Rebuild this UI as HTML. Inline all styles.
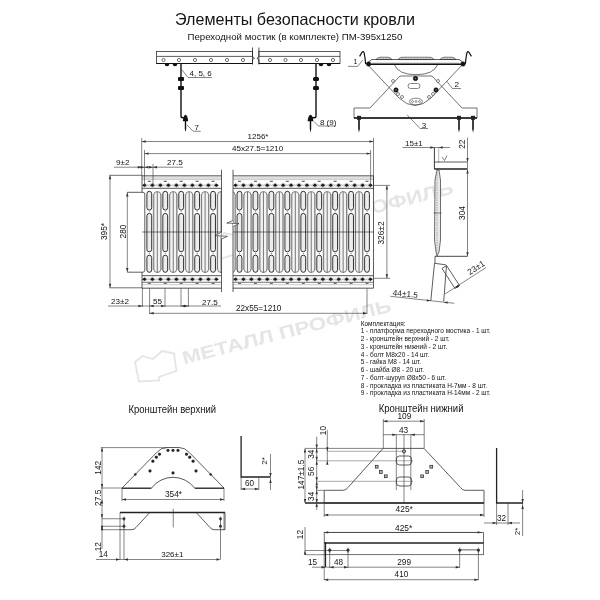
<!DOCTYPE html>
<html><head><meta charset="utf-8"><style>
html,body{margin:0;padding:0;background:#fff;}
svg{display:block;filter:grayscale(1);}
text{font-family:"Liberation Sans", sans-serif;}
</style></head><body>
<svg width="600" height="600" viewBox="0 0 600 600">
<rect width="600" height="600" fill="#fff"/>
<text x="184" y="364.3" font-size="18" font-weight="bold" fill="#e5e5e5" transform="rotate(-14.3 184 364.3)" textLength="215" lengthAdjust="spacingAndGlyphs">МЕТАЛЛ ПРОФИЛЬ</text>
<path d="M135,362 L142.5,356 L153,359 L162,351 L174,353.5 L176.5,371 L159,377 L159,380.5 L139,381.5 Z" fill="none" stroke="#e5e5e5" stroke-width="1.8" transform="translate(0 0.0)"/>
<text x="246" y="246.3" font-size="18" font-weight="bold" fill="#e5e5e5" transform="rotate(-14.3 246 246.3)" textLength="215" lengthAdjust="spacingAndGlyphs">МЕТАЛЛ ПРОФИЛЬ</text>
<path d="M135,362 L142.5,356 L153,359 L162,351 L174,353.5 L176.5,371 L159,377 L159,380.5 L139,381.5 Z" fill="none" stroke="#e5e5e5" stroke-width="1.8" transform="translate(62 -118.0)"/>
<text x="0" y="0" font-size="16.9" fill="#141414" transform="translate(175 25.3) scale(0.9546 1)">Элементы безопасности кровли</text>
<text x="187.50" y="40.00" font-size="9.66" text-anchor="start" fill="#141414" >Переходной мостик (в комплекте) ПМ-395x1250</text>
<g>
<rect x="156.5" y="51.5" width="96.0" height="12" fill="#fff" stroke="#333" stroke-width="0.8"/>
<line x1="156.50" y1="56.40" x2="252.50" y2="56.40" stroke="#333" stroke-width="0.8" />
<line x1="156.50" y1="63.50" x2="252.50" y2="63.50" stroke="#111" stroke-width="1.2" />
<rect x="258.9" y="51.5" width="81.10000000000002" height="12" fill="#fff" stroke="#333" stroke-width="0.8"/>
<line x1="258.90" y1="56.40" x2="340.00" y2="56.40" stroke="#333" stroke-width="0.8" />
<line x1="258.90" y1="63.50" x2="340.00" y2="63.50" stroke="#111" stroke-width="1.2" />
<polyline points="252.50,47.50 252.50,56.50 254.50,58.30 252.50,59.50 252.50,64.50" stroke="#222" stroke-width="0.8" fill="none" />
<polyline points="258.90,47.50 258.90,56.50 256.90,58.30 258.90,59.50 258.90,64.50" stroke="#222" stroke-width="0.8" fill="none" />
<circle cx="163.50" cy="60.00" r="1.6" fill="none" stroke="#333" stroke-width="0.7"/>
<circle cx="179.00" cy="60.00" r="1.6" fill="none" stroke="#333" stroke-width="0.7"/>
<circle cx="195.00" cy="60.00" r="1.6" fill="none" stroke="#333" stroke-width="0.7"/>
<circle cx="211.00" cy="60.00" r="1.6" fill="none" stroke="#333" stroke-width="0.7"/>
<circle cx="227.00" cy="60.00" r="1.6" fill="none" stroke="#333" stroke-width="0.7"/>
<circle cx="243.00" cy="60.00" r="1.6" fill="none" stroke="#333" stroke-width="0.7"/>
<circle cx="270.00" cy="60.00" r="1.6" fill="none" stroke="#333" stroke-width="0.7"/>
<circle cx="285.50" cy="60.00" r="1.6" fill="none" stroke="#333" stroke-width="0.7"/>
<circle cx="301.00" cy="60.00" r="1.6" fill="none" stroke="#333" stroke-width="0.7"/>
<circle cx="317.00" cy="60.00" r="1.6" fill="none" stroke="#333" stroke-width="0.7"/>
<circle cx="333.00" cy="60.00" r="1.6" fill="none" stroke="#333" stroke-width="0.7"/>
<path d="M164.7,64 a2.3,2.3 0 0 0 4.6,0 z" fill="#111"/>
<path d="M172.7,64 a2.3,2.3 0 0 0 4.6,0 z" fill="#111"/>
<path d="M181,63.5 V116 Q181,117.8 183,117.8 H186" stroke="#111" stroke-width="1.4" fill="none" />
<rect x="178" y="77" width="6" height="4" rx="1" fill="#111"/>
<rect x="178" y="86" width="6" height="4" rx="1" fill="#111"/>
<path d="M182.8,121.2 Q183.5,115 185.5,114.8 Q187.5,115 188.2,121.2 Z" fill="#111"/>
<path d="M184.8,120 V129 L185.5,132 L186.2,129 V120 Z" fill="#111"/>
<polyline points="182.00,70.00 188.00,77.50 212.00,77.50" stroke="#333" stroke-width="0.6" fill="none" />
<text x="189.50" y="75.50" font-size="8" text-anchor="start" fill="#141414" >4, 5, 6</text>
<polyline points="186.90,124.90 193.25,131.25 200.75,131.25" stroke="#333" stroke-width="0.6" fill="none" />
<text x="194.60" y="129.80" font-size="8" text-anchor="start" fill="#141414" >7</text>
<path d="M318.7,64 a2.3,2.3 0 0 0 4.6,0 z" fill="#111"/>
<path d="M326.7,64 a2.3,2.3 0 0 0 4.6,0 z" fill="#111"/>
<path d="M316,63.5 V116 Q316,117.8 314,117.8 H311" stroke="#111" stroke-width="1.4" fill="none" />
<rect x="313" y="77" width="6" height="4" rx="1.5" fill="#111"/>
<rect x="313" y="86" width="6" height="4" rx="1.5" fill="#111"/>
<path d="M307.6,121.2 Q308.3,115 310.5,114.8 Q312.7,115 313.4,121.2 Z" fill="#111"/>
<path d="M309.8,120 V129 L310.5,132.5 L311.2,129 V120 Z" fill="#111"/>
<polyline points="313.90,121.50 318.40,126.00 335.60,126.00" stroke="#333" stroke-width="0.6" fill="none" />
<text x="319.90" y="124.60" font-size="8" text-anchor="start" fill="#141414" >8 (9)</text>
</g>
<g>
<polygon points="354.00,108.00 354.00,118.00 477.00,118.00 477.00,108.00 462.00,108.00 432.00,76.00 400.00,76.00 370.00,108.00" stroke="#333" stroke-width="0.7" fill="none" />
<line x1="354.00" y1="118.00" x2="477.00" y2="118.00" stroke="#111" stroke-width="1.4" />
<path d="M367,64 L399,98 Q415,113 431,98 L463,64" stroke="#333" stroke-width="0.7" fill="none" />
<path d="M394.2,64.2 Q398,74.7 416,74.7 Q434,74.7 437.8,64.2" stroke="#333" stroke-width="0.7" fill="none" />
<rect x="370" y="59.5" width="92" height="4.5" fill="#fff" stroke="none"/>
<path d="M376,59.6 Q377.5,57 380,57.2 H388 Q390.5,57 392,59.6 Z" fill="#b4b4b4" stroke="#444" stroke-width="0.6"/>
<circle cx="379.00" cy="58.40" r="0.7" fill="#e8e8e8" stroke="#333" stroke-width="0"/>
<circle cx="382.00" cy="58.40" r="0.7" fill="#e8e8e8" stroke="#333" stroke-width="0"/>
<circle cx="385.00" cy="58.40" r="0.7" fill="#e8e8e8" stroke="#333" stroke-width="0"/>
<circle cx="388.00" cy="58.40" r="0.7" fill="#e8e8e8" stroke="#333" stroke-width="0"/>
<path d="M398,59.6 Q399.5,57 402,57.2 H430 Q432.5,57 434,59.6 Z" fill="#b4b4b4" stroke="#444" stroke-width="0.6"/>
<circle cx="401.00" cy="58.40" r="0.7" fill="#e8e8e8" stroke="#333" stroke-width="0"/>
<circle cx="404.00" cy="58.40" r="0.7" fill="#e8e8e8" stroke="#333" stroke-width="0"/>
<circle cx="407.00" cy="58.40" r="0.7" fill="#e8e8e8" stroke="#333" stroke-width="0"/>
<circle cx="410.00" cy="58.40" r="0.7" fill="#e8e8e8" stroke="#333" stroke-width="0"/>
<circle cx="413.00" cy="58.40" r="0.7" fill="#e8e8e8" stroke="#333" stroke-width="0"/>
<circle cx="416.00" cy="58.40" r="0.7" fill="#e8e8e8" stroke="#333" stroke-width="0"/>
<circle cx="419.00" cy="58.40" r="0.7" fill="#e8e8e8" stroke="#333" stroke-width="0"/>
<circle cx="422.00" cy="58.40" r="0.7" fill="#e8e8e8" stroke="#333" stroke-width="0"/>
<circle cx="425.00" cy="58.40" r="0.7" fill="#e8e8e8" stroke="#333" stroke-width="0"/>
<circle cx="428.00" cy="58.40" r="0.7" fill="#e8e8e8" stroke="#333" stroke-width="0"/>
<circle cx="431.00" cy="58.40" r="0.7" fill="#e8e8e8" stroke="#333" stroke-width="0"/>
<path d="M440,59.6 Q441.5,57 444,57.2 H452 Q454.5,57 456,59.6 Z" fill="#b4b4b4" stroke="#444" stroke-width="0.6"/>
<circle cx="443.00" cy="58.40" r="0.7" fill="#e8e8e8" stroke="#333" stroke-width="0"/>
<circle cx="446.00" cy="58.40" r="0.7" fill="#e8e8e8" stroke="#333" stroke-width="0"/>
<circle cx="449.00" cy="58.40" r="0.7" fill="#e8e8e8" stroke="#333" stroke-width="0"/>
<circle cx="452.00" cy="58.40" r="0.7" fill="#e8e8e8" stroke="#333" stroke-width="0"/>
<polyline points="368.50,62.00 372.00,59.50 459.00,59.50 462.50,62.00" stroke="#333" stroke-width="0.8" fill="none" />
<line x1="372.00" y1="63.00" x2="459.00" y2="63.00" stroke="#999" stroke-width="0.6" />
<line x1="368.00" y1="64.20" x2="463.00" y2="64.20" stroke="#111" stroke-width="1.4" />
<path d="M359.6,56.4 L362,52.3 Q363,51 364,52.5 L365,58 L365.6,63.6 L368.8,64.4" stroke="#111" stroke-width="1.2" fill="none" />
<path d="M471.4,56.4 L469,52.3 Q468,51 467,52.5 L466,58 L465.4,63.6 L462.2,64.4" stroke="#111" stroke-width="1.2" fill="none" />
<circle cx="368.60" cy="64.00" r="2.3" fill="#111" stroke="#333" stroke-width="0.5"/>
<circle cx="463.00" cy="64.00" r="2.3" fill="#111" stroke="#333" stroke-width="0.5"/>
<circle cx="415.50" cy="78.50" r="2.2" fill="#111" stroke="#111" stroke-width="0.6"/>
<circle cx="415.50" cy="78.50" r="0.8" fill="#888" stroke="#333" stroke-width="0"/>
<circle cx="396.00" cy="90.00" r="2.2" fill="#111" stroke="#111" stroke-width="0.6"/>
<circle cx="396.00" cy="90.00" r="0.8" fill="#888" stroke="#333" stroke-width="0"/>
<circle cx="436.00" cy="90.00" r="2.2" fill="#111" stroke="#111" stroke-width="0.6"/>
<circle cx="436.00" cy="90.00" r="0.8" fill="#888" stroke="#333" stroke-width="0"/>
<circle cx="393.00" cy="81.00" r="1.5" fill="#fff" stroke="#333" stroke-width="0.6"/>
<circle cx="398.00" cy="94.00" r="1.5" fill="#fff" stroke="#333" stroke-width="0.6"/>
<circle cx="402.00" cy="97.00" r="1.5" fill="#fff" stroke="#333" stroke-width="0.6"/>
<circle cx="438.00" cy="81.00" r="1.5" fill="#fff" stroke="#333" stroke-width="0.6"/>
<circle cx="433.00" cy="94.00" r="1.5" fill="#fff" stroke="#333" stroke-width="0.6"/>
<circle cx="429.00" cy="97.00" r="1.5" fill="#fff" stroke="#333" stroke-width="0.6"/>
<rect x="408" y="83.5" width="12" height="5" rx="2.5" fill="none" stroke="#333" stroke-width="0.6"/>
<ellipse cx="416" cy="101.5" rx="6.5" ry="3.3" fill="none" stroke="#333" stroke-width="0.6"/>
<circle cx="412.50" cy="101.50" r="1.0" fill="none" stroke="#333" stroke-width="0.5"/>
<circle cx="416.00" cy="101.50" r="1.0" fill="none" stroke="#333" stroke-width="0.5"/>
<circle cx="419.50" cy="101.50" r="1.0" fill="none" stroke="#333" stroke-width="0.5"/>
<path d="M358.2,119 V129 L359,132.5 L359.8,129 V119 Z" fill="#111"/>
<rect x="357" y="115.8" width="4" height="4" fill="#222"/>
<path d="M458.2,119 V129 L459,132.5 L459.8,129 V119 Z" fill="#111"/>
<rect x="457" y="115.8" width="4" height="4" fill="#222"/>
<path d="M472.2,119 V129 L473,132.5 L473.8,129 V119 Z" fill="#111"/>
<rect x="471" y="115.8" width="4" height="4" fill="#222"/>
<polyline points="348.00,66.40 357.60,66.40 362.80,60.00" stroke="#333" stroke-width="0.6" fill="none" />
<text x="353.50" y="64.40" font-size="7" text-anchor="start" fill="#141414" >1</text>
<polyline points="446.50,81.00 452.50,88.50 461.00,88.50" stroke="#333" stroke-width="0.6" fill="none" />
<text x="454.50" y="87.00" font-size="8" text-anchor="start" fill="#141414" >2</text>
<polyline points="407.00,114.70 420.00,128.50 428.00,128.50" stroke="#333" stroke-width="0.6" fill="none" />
<text x="421.80" y="127.60" font-size="8" text-anchor="start" fill="#141414" >3</text>
</g>
<g>
<clipPath id="c142"><rect x="142" y="170" width="79.5" height="125"/></clipPath><g clip-path="url(#c142)">
<rect x="142" y="175.5" width="79.5" height="112.8" fill="#fff" stroke="none"/>
<rect x="142" y="176.6" width="79.5" height="3.6" fill="#e0e0e0"/>
<line x1="142.00" y1="175.70" x2="221.50" y2="175.70" stroke="#8a8a8a" stroke-width="1.5" />
<line x1="142.00" y1="179.30" x2="221.50" y2="179.30" stroke="#cfcfcf" stroke-width="1.2" />
<line x1="142.00" y1="188.30" x2="221.50" y2="188.30" stroke="#444" stroke-width="0.9" />
<line x1="142.00" y1="275.70" x2="221.50" y2="275.70" stroke="#444" stroke-width="0.9" />
<line x1="142.00" y1="282.30" x2="221.50" y2="282.30" stroke="#555" stroke-width="0.8" />
<line x1="142.00" y1="284.70" x2="221.50" y2="284.70" stroke="#bbb" stroke-width="0.8" />
<line x1="142.00" y1="288.30" x2="221.50" y2="288.30" stroke="#8a8a8a" stroke-width="1.5" />
<line x1="144.40" y1="183.10" x2="152.40" y2="187.50" stroke="#b0b0b0" stroke-width="0.6" />
<line x1="144.40" y1="187.50" x2="152.40" y2="183.10" stroke="#b0b0b0" stroke-width="0.6" />
<line x1="152.40" y1="183.10" x2="160.40" y2="187.50" stroke="#b0b0b0" stroke-width="0.6" />
<line x1="152.40" y1="187.50" x2="160.40" y2="183.10" stroke="#b0b0b0" stroke-width="0.6" />
<line x1="160.40" y1="183.10" x2="168.40" y2="187.50" stroke="#b0b0b0" stroke-width="0.6" />
<line x1="160.40" y1="187.50" x2="168.40" y2="183.10" stroke="#b0b0b0" stroke-width="0.6" />
<line x1="168.40" y1="183.10" x2="176.40" y2="187.50" stroke="#b0b0b0" stroke-width="0.6" />
<line x1="168.40" y1="187.50" x2="176.40" y2="183.10" stroke="#b0b0b0" stroke-width="0.6" />
<line x1="176.40" y1="183.10" x2="184.40" y2="187.50" stroke="#b0b0b0" stroke-width="0.6" />
<line x1="176.40" y1="187.50" x2="184.40" y2="183.10" stroke="#b0b0b0" stroke-width="0.6" />
<line x1="184.40" y1="183.10" x2="192.40" y2="187.50" stroke="#b0b0b0" stroke-width="0.6" />
<line x1="184.40" y1="187.50" x2="192.40" y2="183.10" stroke="#b0b0b0" stroke-width="0.6" />
<line x1="192.40" y1="183.10" x2="200.40" y2="187.50" stroke="#b0b0b0" stroke-width="0.6" />
<line x1="192.40" y1="187.50" x2="200.40" y2="183.10" stroke="#b0b0b0" stroke-width="0.6" />
<line x1="200.40" y1="183.10" x2="208.40" y2="187.50" stroke="#b0b0b0" stroke-width="0.6" />
<line x1="200.40" y1="187.50" x2="208.40" y2="183.10" stroke="#b0b0b0" stroke-width="0.6" />
<line x1="208.40" y1="183.10" x2="216.40" y2="187.50" stroke="#b0b0b0" stroke-width="0.6" />
<line x1="208.40" y1="187.50" x2="216.40" y2="183.10" stroke="#b0b0b0" stroke-width="0.6" />
<polygon points="144.40,183.60 146.80,185.30 144.40,187.00 142.00,185.30" fill="#1a1a1a"/>
<polygon points="152.40,183.60 154.80,185.30 152.40,187.00 150.00,185.30" fill="#1a1a1a"/>
<polygon points="160.40,183.60 162.80,185.30 160.40,187.00 158.00,185.30" fill="#1a1a1a"/>
<polygon points="168.40,183.60 170.80,185.30 168.40,187.00 166.00,185.30" fill="#1a1a1a"/>
<polygon points="176.40,183.60 178.80,185.30 176.40,187.00 174.00,185.30" fill="#1a1a1a"/>
<polygon points="184.40,183.60 186.80,185.30 184.40,187.00 182.00,185.30" fill="#1a1a1a"/>
<polygon points="192.40,183.60 194.80,185.30 192.40,187.00 190.00,185.30" fill="#1a1a1a"/>
<polygon points="200.40,183.60 202.80,185.30 200.40,187.00 198.00,185.30" fill="#1a1a1a"/>
<polygon points="208.40,183.60 210.80,185.30 208.40,187.00 206.00,185.30" fill="#1a1a1a"/>
<polygon points="216.40,183.60 218.80,185.30 216.40,187.00 214.00,185.30" fill="#1a1a1a"/>
<line x1="144.40" y1="277.10" x2="152.40" y2="281.50" stroke="#b0b0b0" stroke-width="0.6" />
<line x1="144.40" y1="281.50" x2="152.40" y2="277.10" stroke="#b0b0b0" stroke-width="0.6" />
<line x1="152.40" y1="277.10" x2="160.40" y2="281.50" stroke="#b0b0b0" stroke-width="0.6" />
<line x1="152.40" y1="281.50" x2="160.40" y2="277.10" stroke="#b0b0b0" stroke-width="0.6" />
<line x1="160.40" y1="277.10" x2="168.40" y2="281.50" stroke="#b0b0b0" stroke-width="0.6" />
<line x1="160.40" y1="281.50" x2="168.40" y2="277.10" stroke="#b0b0b0" stroke-width="0.6" />
<line x1="168.40" y1="277.10" x2="176.40" y2="281.50" stroke="#b0b0b0" stroke-width="0.6" />
<line x1="168.40" y1="281.50" x2="176.40" y2="277.10" stroke="#b0b0b0" stroke-width="0.6" />
<line x1="176.40" y1="277.10" x2="184.40" y2="281.50" stroke="#b0b0b0" stroke-width="0.6" />
<line x1="176.40" y1="281.50" x2="184.40" y2="277.10" stroke="#b0b0b0" stroke-width="0.6" />
<line x1="184.40" y1="277.10" x2="192.40" y2="281.50" stroke="#b0b0b0" stroke-width="0.6" />
<line x1="184.40" y1="281.50" x2="192.40" y2="277.10" stroke="#b0b0b0" stroke-width="0.6" />
<line x1="192.40" y1="277.10" x2="200.40" y2="281.50" stroke="#b0b0b0" stroke-width="0.6" />
<line x1="192.40" y1="281.50" x2="200.40" y2="277.10" stroke="#b0b0b0" stroke-width="0.6" />
<line x1="200.40" y1="277.10" x2="208.40" y2="281.50" stroke="#b0b0b0" stroke-width="0.6" />
<line x1="200.40" y1="281.50" x2="208.40" y2="277.10" stroke="#b0b0b0" stroke-width="0.6" />
<line x1="208.40" y1="277.10" x2="216.40" y2="281.50" stroke="#b0b0b0" stroke-width="0.6" />
<line x1="208.40" y1="281.50" x2="216.40" y2="277.10" stroke="#b0b0b0" stroke-width="0.6" />
<polygon points="144.40,277.60 146.80,279.30 144.40,281.00 142.00,279.30" fill="#1a1a1a"/>
<polygon points="152.40,277.60 154.80,279.30 152.40,281.00 150.00,279.30" fill="#1a1a1a"/>
<polygon points="160.40,277.60 162.80,279.30 160.40,281.00 158.00,279.30" fill="#1a1a1a"/>
<polygon points="168.40,277.60 170.80,279.30 168.40,281.00 166.00,279.30" fill="#1a1a1a"/>
<polygon points="176.40,277.60 178.80,279.30 176.40,281.00 174.00,279.30" fill="#1a1a1a"/>
<polygon points="184.40,277.60 186.80,279.30 184.40,281.00 182.00,279.30" fill="#1a1a1a"/>
<polygon points="192.40,277.60 194.80,279.30 192.40,281.00 190.00,279.30" fill="#1a1a1a"/>
<polygon points="200.40,277.60 202.80,279.30 200.40,281.00 198.00,279.30" fill="#1a1a1a"/>
<polygon points="208.40,277.60 210.80,279.30 208.40,281.00 206.00,279.30" fill="#1a1a1a"/>
<polygon points="216.40,277.60 218.80,279.30 216.40,281.00 214.00,279.30" fill="#1a1a1a"/>
<line x1="147.80" y1="181.30" x2="150.80" y2="181.30" stroke="#333" stroke-width="0.9" />
<line x1="147.80" y1="283.30" x2="150.80" y2="283.30" stroke="#333" stroke-width="0.9" />
<line x1="163.74" y1="181.30" x2="166.74" y2="181.30" stroke="#333" stroke-width="0.9" />
<line x1="163.74" y1="283.30" x2="166.74" y2="283.30" stroke="#333" stroke-width="0.9" />
<line x1="179.68" y1="181.30" x2="182.68" y2="181.30" stroke="#333" stroke-width="0.9" />
<line x1="179.68" y1="283.30" x2="182.68" y2="283.30" stroke="#333" stroke-width="0.9" />
<line x1="195.62" y1="181.30" x2="198.62" y2="181.30" stroke="#333" stroke-width="0.9" />
<line x1="195.62" y1="283.30" x2="198.62" y2="283.30" stroke="#333" stroke-width="0.9" />
<line x1="211.56" y1="181.30" x2="214.56" y2="181.30" stroke="#333" stroke-width="0.9" />
<line x1="211.56" y1="283.30" x2="214.56" y2="283.30" stroke="#333" stroke-width="0.9" />
<rect x="152.70" y="194" width="1.6" height="76" fill="#c9c9c9"/>
<rect x="160.30" y="194" width="1.6" height="76" fill="#c9c9c9"/>
<rect x="153.80" y="191.5" width="7.0" height="81" rx="3.5" fill="#f3f3f3" stroke="#4a4a4a" stroke-width="0.7"/>
<line x1="157.30" y1="192.00" x2="157.30" y2="272.50" stroke="#444" stroke-width="0.7" />
<rect x="168.64" y="194" width="1.6" height="76" fill="#c9c9c9"/>
<rect x="176.24" y="194" width="1.6" height="76" fill="#c9c9c9"/>
<rect x="169.74" y="191.5" width="7.0" height="81" rx="3.5" fill="#f3f3f3" stroke="#4a4a4a" stroke-width="0.7"/>
<line x1="173.24" y1="192.00" x2="173.24" y2="272.50" stroke="#444" stroke-width="0.7" />
<rect x="184.58" y="194" width="1.6" height="76" fill="#c9c9c9"/>
<rect x="192.18" y="194" width="1.6" height="76" fill="#c9c9c9"/>
<rect x="185.68" y="191.5" width="7.0" height="81" rx="3.5" fill="#f3f3f3" stroke="#4a4a4a" stroke-width="0.7"/>
<line x1="189.18" y1="192.00" x2="189.18" y2="272.50" stroke="#444" stroke-width="0.7" />
<rect x="200.52" y="194" width="1.6" height="76" fill="#c9c9c9"/>
<rect x="208.12" y="194" width="1.6" height="76" fill="#c9c9c9"/>
<rect x="201.62" y="191.5" width="7.0" height="81" rx="3.5" fill="#f3f3f3" stroke="#4a4a4a" stroke-width="0.7"/>
<line x1="205.12" y1="192.00" x2="205.12" y2="272.50" stroke="#444" stroke-width="0.7" />
<rect x="216.46" y="194" width="1.6" height="76" fill="#c9c9c9"/>
<rect x="224.06" y="194" width="1.6" height="76" fill="#c9c9c9"/>
<rect x="217.56" y="191.5" width="7.0" height="81" rx="3.5" fill="#f3f3f3" stroke="#4a4a4a" stroke-width="0.7"/>
<line x1="221.06" y1="192.00" x2="221.06" y2="272.50" stroke="#444" stroke-width="0.7" />
<rect x="146.90" y="191.3" width="4.8" height="18.80" rx="2.4" fill="#ececec" stroke="#1e1e1e" stroke-width="0.9"/>
<rect x="146.90" y="213.4" width="4.8" height="38.40" rx="2.4" fill="#ececec" stroke="#1e1e1e" stroke-width="0.9"/>
<rect x="146.90" y="255.2" width="4.8" height="17.10" rx="2.4" fill="#ececec" stroke="#1e1e1e" stroke-width="0.9"/>
<rect x="148.90" y="211.35" width="0.8" height="0.8" fill="#555"/>
<rect x="148.90" y="253.1" width="0.8" height="0.8" fill="#555"/>
<rect x="162.84" y="191.3" width="4.8" height="18.80" rx="2.4" fill="#ececec" stroke="#1e1e1e" stroke-width="0.9"/>
<rect x="162.84" y="213.4" width="4.8" height="38.40" rx="2.4" fill="#ececec" stroke="#1e1e1e" stroke-width="0.9"/>
<rect x="162.84" y="255.2" width="4.8" height="17.10" rx="2.4" fill="#ececec" stroke="#1e1e1e" stroke-width="0.9"/>
<rect x="164.84" y="211.35" width="0.8" height="0.8" fill="#555"/>
<rect x="164.84" y="253.1" width="0.8" height="0.8" fill="#555"/>
<rect x="178.78" y="191.3" width="4.8" height="18.80" rx="2.4" fill="#ececec" stroke="#1e1e1e" stroke-width="0.9"/>
<rect x="178.78" y="213.4" width="4.8" height="38.40" rx="2.4" fill="#ececec" stroke="#1e1e1e" stroke-width="0.9"/>
<rect x="178.78" y="255.2" width="4.8" height="17.10" rx="2.4" fill="#ececec" stroke="#1e1e1e" stroke-width="0.9"/>
<rect x="180.78" y="211.35" width="0.8" height="0.8" fill="#555"/>
<rect x="180.78" y="253.1" width="0.8" height="0.8" fill="#555"/>
<rect x="194.72" y="191.3" width="4.8" height="18.80" rx="2.4" fill="#ececec" stroke="#1e1e1e" stroke-width="0.9"/>
<rect x="194.72" y="213.4" width="4.8" height="38.40" rx="2.4" fill="#ececec" stroke="#1e1e1e" stroke-width="0.9"/>
<rect x="194.72" y="255.2" width="4.8" height="17.10" rx="2.4" fill="#ececec" stroke="#1e1e1e" stroke-width="0.9"/>
<rect x="196.72" y="211.35" width="0.8" height="0.8" fill="#555"/>
<rect x="196.72" y="253.1" width="0.8" height="0.8" fill="#555"/>
<rect x="210.66" y="191.3" width="4.8" height="18.80" rx="2.4" fill="#ececec" stroke="#1e1e1e" stroke-width="0.9"/>
<rect x="210.66" y="213.4" width="4.8" height="38.40" rx="2.4" fill="#ececec" stroke="#1e1e1e" stroke-width="0.9"/>
<rect x="210.66" y="255.2" width="4.8" height="17.10" rx="2.4" fill="#ececec" stroke="#1e1e1e" stroke-width="0.9"/>
<rect x="212.66" y="211.35" width="0.8" height="0.8" fill="#555"/>
<rect x="212.66" y="253.1" width="0.8" height="0.8" fill="#555"/>
</g>
<line x1="142.00" y1="175.50" x2="142.00" y2="192.30" stroke="#333" stroke-width="0.8" />
<line x1="142.00" y1="272.00" x2="142.00" y2="288.30" stroke="#333" stroke-width="0.8" />
<line x1="221.50" y1="169.75" x2="221.50" y2="292.00" stroke="#333" stroke-width="0.8" />
<clipPath id="c233"><rect x="233" y="170" width="140.5" height="125"/></clipPath><g clip-path="url(#c233)">
<rect x="233" y="175.5" width="140.5" height="112.8" fill="#fff" stroke="none"/>
<rect x="233" y="176.6" width="140.5" height="3.6" fill="#e0e0e0"/>
<line x1="233.00" y1="175.70" x2="373.50" y2="175.70" stroke="#8a8a8a" stroke-width="1.5" />
<line x1="233.00" y1="179.30" x2="373.50" y2="179.30" stroke="#cfcfcf" stroke-width="1.2" />
<line x1="233.00" y1="188.30" x2="373.50" y2="188.30" stroke="#444" stroke-width="0.9" />
<line x1="233.00" y1="275.70" x2="373.50" y2="275.70" stroke="#444" stroke-width="0.9" />
<line x1="233.00" y1="282.30" x2="373.50" y2="282.30" stroke="#555" stroke-width="0.8" />
<line x1="233.00" y1="284.70" x2="373.50" y2="284.70" stroke="#bbb" stroke-width="0.8" />
<line x1="233.00" y1="288.30" x2="373.50" y2="288.30" stroke="#8a8a8a" stroke-width="1.5" />
<line x1="235.50" y1="183.10" x2="243.44" y2="187.50" stroke="#b0b0b0" stroke-width="0.6" />
<line x1="235.50" y1="187.50" x2="243.44" y2="183.10" stroke="#b0b0b0" stroke-width="0.6" />
<line x1="243.44" y1="183.10" x2="251.38" y2="187.50" stroke="#b0b0b0" stroke-width="0.6" />
<line x1="243.44" y1="187.50" x2="251.38" y2="183.10" stroke="#b0b0b0" stroke-width="0.6" />
<line x1="251.38" y1="183.10" x2="259.32" y2="187.50" stroke="#b0b0b0" stroke-width="0.6" />
<line x1="251.38" y1="187.50" x2="259.32" y2="183.10" stroke="#b0b0b0" stroke-width="0.6" />
<line x1="259.32" y1="183.10" x2="267.26" y2="187.50" stroke="#b0b0b0" stroke-width="0.6" />
<line x1="259.32" y1="187.50" x2="267.26" y2="183.10" stroke="#b0b0b0" stroke-width="0.6" />
<line x1="267.26" y1="183.10" x2="275.20" y2="187.50" stroke="#b0b0b0" stroke-width="0.6" />
<line x1="267.26" y1="187.50" x2="275.20" y2="183.10" stroke="#b0b0b0" stroke-width="0.6" />
<line x1="275.20" y1="183.10" x2="283.14" y2="187.50" stroke="#b0b0b0" stroke-width="0.6" />
<line x1="275.20" y1="187.50" x2="283.14" y2="183.10" stroke="#b0b0b0" stroke-width="0.6" />
<line x1="283.14" y1="183.10" x2="291.08" y2="187.50" stroke="#b0b0b0" stroke-width="0.6" />
<line x1="283.14" y1="187.50" x2="291.08" y2="183.10" stroke="#b0b0b0" stroke-width="0.6" />
<line x1="291.08" y1="183.10" x2="299.02" y2="187.50" stroke="#b0b0b0" stroke-width="0.6" />
<line x1="291.08" y1="187.50" x2="299.02" y2="183.10" stroke="#b0b0b0" stroke-width="0.6" />
<line x1="299.02" y1="183.10" x2="306.96" y2="187.50" stroke="#b0b0b0" stroke-width="0.6" />
<line x1="299.02" y1="187.50" x2="306.96" y2="183.10" stroke="#b0b0b0" stroke-width="0.6" />
<line x1="306.96" y1="183.10" x2="314.90" y2="187.50" stroke="#b0b0b0" stroke-width="0.6" />
<line x1="306.96" y1="187.50" x2="314.90" y2="183.10" stroke="#b0b0b0" stroke-width="0.6" />
<line x1="314.90" y1="183.10" x2="322.84" y2="187.50" stroke="#b0b0b0" stroke-width="0.6" />
<line x1="314.90" y1="187.50" x2="322.84" y2="183.10" stroke="#b0b0b0" stroke-width="0.6" />
<line x1="322.84" y1="183.10" x2="330.78" y2="187.50" stroke="#b0b0b0" stroke-width="0.6" />
<line x1="322.84" y1="187.50" x2="330.78" y2="183.10" stroke="#b0b0b0" stroke-width="0.6" />
<line x1="330.78" y1="183.10" x2="338.72" y2="187.50" stroke="#b0b0b0" stroke-width="0.6" />
<line x1="330.78" y1="187.50" x2="338.72" y2="183.10" stroke="#b0b0b0" stroke-width="0.6" />
<line x1="338.72" y1="183.10" x2="346.66" y2="187.50" stroke="#b0b0b0" stroke-width="0.6" />
<line x1="338.72" y1="187.50" x2="346.66" y2="183.10" stroke="#b0b0b0" stroke-width="0.6" />
<line x1="346.66" y1="183.10" x2="354.60" y2="187.50" stroke="#b0b0b0" stroke-width="0.6" />
<line x1="346.66" y1="187.50" x2="354.60" y2="183.10" stroke="#b0b0b0" stroke-width="0.6" />
<line x1="354.60" y1="183.10" x2="362.54" y2="187.50" stroke="#b0b0b0" stroke-width="0.6" />
<line x1="354.60" y1="187.50" x2="362.54" y2="183.10" stroke="#b0b0b0" stroke-width="0.6" />
<line x1="362.54" y1="183.10" x2="370.48" y2="187.50" stroke="#b0b0b0" stroke-width="0.6" />
<line x1="362.54" y1="187.50" x2="370.48" y2="183.10" stroke="#b0b0b0" stroke-width="0.6" />
<polygon points="235.50,183.60 237.90,185.30 235.50,187.00 233.10,185.30" fill="#1a1a1a"/>
<polygon points="243.44,183.60 245.84,185.30 243.44,187.00 241.04,185.30" fill="#1a1a1a"/>
<polygon points="251.38,183.60 253.78,185.30 251.38,187.00 248.98,185.30" fill="#1a1a1a"/>
<polygon points="259.32,183.60 261.72,185.30 259.32,187.00 256.92,185.30" fill="#1a1a1a"/>
<polygon points="267.26,183.60 269.66,185.30 267.26,187.00 264.86,185.30" fill="#1a1a1a"/>
<polygon points="275.20,183.60 277.60,185.30 275.20,187.00 272.80,185.30" fill="#1a1a1a"/>
<polygon points="283.14,183.60 285.54,185.30 283.14,187.00 280.74,185.30" fill="#1a1a1a"/>
<polygon points="291.08,183.60 293.48,185.30 291.08,187.00 288.68,185.30" fill="#1a1a1a"/>
<polygon points="299.02,183.60 301.42,185.30 299.02,187.00 296.62,185.30" fill="#1a1a1a"/>
<polygon points="306.96,183.60 309.36,185.30 306.96,187.00 304.56,185.30" fill="#1a1a1a"/>
<polygon points="314.90,183.60 317.30,185.30 314.90,187.00 312.50,185.30" fill="#1a1a1a"/>
<polygon points="322.84,183.60 325.24,185.30 322.84,187.00 320.44,185.30" fill="#1a1a1a"/>
<polygon points="330.78,183.60 333.18,185.30 330.78,187.00 328.38,185.30" fill="#1a1a1a"/>
<polygon points="338.72,183.60 341.12,185.30 338.72,187.00 336.32,185.30" fill="#1a1a1a"/>
<polygon points="346.66,183.60 349.06,185.30 346.66,187.00 344.26,185.30" fill="#1a1a1a"/>
<polygon points="354.60,183.60 357.00,185.30 354.60,187.00 352.20,185.30" fill="#1a1a1a"/>
<polygon points="362.54,183.60 364.94,185.30 362.54,187.00 360.14,185.30" fill="#1a1a1a"/>
<polygon points="370.48,183.60 372.88,185.30 370.48,187.00 368.08,185.30" fill="#1a1a1a"/>
<line x1="235.50" y1="277.10" x2="243.44" y2="281.50" stroke="#b0b0b0" stroke-width="0.6" />
<line x1="235.50" y1="281.50" x2="243.44" y2="277.10" stroke="#b0b0b0" stroke-width="0.6" />
<line x1="243.44" y1="277.10" x2="251.38" y2="281.50" stroke="#b0b0b0" stroke-width="0.6" />
<line x1="243.44" y1="281.50" x2="251.38" y2="277.10" stroke="#b0b0b0" stroke-width="0.6" />
<line x1="251.38" y1="277.10" x2="259.32" y2="281.50" stroke="#b0b0b0" stroke-width="0.6" />
<line x1="251.38" y1="281.50" x2="259.32" y2="277.10" stroke="#b0b0b0" stroke-width="0.6" />
<line x1="259.32" y1="277.10" x2="267.26" y2="281.50" stroke="#b0b0b0" stroke-width="0.6" />
<line x1="259.32" y1="281.50" x2="267.26" y2="277.10" stroke="#b0b0b0" stroke-width="0.6" />
<line x1="267.26" y1="277.10" x2="275.20" y2="281.50" stroke="#b0b0b0" stroke-width="0.6" />
<line x1="267.26" y1="281.50" x2="275.20" y2="277.10" stroke="#b0b0b0" stroke-width="0.6" />
<line x1="275.20" y1="277.10" x2="283.14" y2="281.50" stroke="#b0b0b0" stroke-width="0.6" />
<line x1="275.20" y1="281.50" x2="283.14" y2="277.10" stroke="#b0b0b0" stroke-width="0.6" />
<line x1="283.14" y1="277.10" x2="291.08" y2="281.50" stroke="#b0b0b0" stroke-width="0.6" />
<line x1="283.14" y1="281.50" x2="291.08" y2="277.10" stroke="#b0b0b0" stroke-width="0.6" />
<line x1="291.08" y1="277.10" x2="299.02" y2="281.50" stroke="#b0b0b0" stroke-width="0.6" />
<line x1="291.08" y1="281.50" x2="299.02" y2="277.10" stroke="#b0b0b0" stroke-width="0.6" />
<line x1="299.02" y1="277.10" x2="306.96" y2="281.50" stroke="#b0b0b0" stroke-width="0.6" />
<line x1="299.02" y1="281.50" x2="306.96" y2="277.10" stroke="#b0b0b0" stroke-width="0.6" />
<line x1="306.96" y1="277.10" x2="314.90" y2="281.50" stroke="#b0b0b0" stroke-width="0.6" />
<line x1="306.96" y1="281.50" x2="314.90" y2="277.10" stroke="#b0b0b0" stroke-width="0.6" />
<line x1="314.90" y1="277.10" x2="322.84" y2="281.50" stroke="#b0b0b0" stroke-width="0.6" />
<line x1="314.90" y1="281.50" x2="322.84" y2="277.10" stroke="#b0b0b0" stroke-width="0.6" />
<line x1="322.84" y1="277.10" x2="330.78" y2="281.50" stroke="#b0b0b0" stroke-width="0.6" />
<line x1="322.84" y1="281.50" x2="330.78" y2="277.10" stroke="#b0b0b0" stroke-width="0.6" />
<line x1="330.78" y1="277.10" x2="338.72" y2="281.50" stroke="#b0b0b0" stroke-width="0.6" />
<line x1="330.78" y1="281.50" x2="338.72" y2="277.10" stroke="#b0b0b0" stroke-width="0.6" />
<line x1="338.72" y1="277.10" x2="346.66" y2="281.50" stroke="#b0b0b0" stroke-width="0.6" />
<line x1="338.72" y1="281.50" x2="346.66" y2="277.10" stroke="#b0b0b0" stroke-width="0.6" />
<line x1="346.66" y1="277.10" x2="354.60" y2="281.50" stroke="#b0b0b0" stroke-width="0.6" />
<line x1="346.66" y1="281.50" x2="354.60" y2="277.10" stroke="#b0b0b0" stroke-width="0.6" />
<line x1="354.60" y1="277.10" x2="362.54" y2="281.50" stroke="#b0b0b0" stroke-width="0.6" />
<line x1="354.60" y1="281.50" x2="362.54" y2="277.10" stroke="#b0b0b0" stroke-width="0.6" />
<line x1="362.54" y1="277.10" x2="370.48" y2="281.50" stroke="#b0b0b0" stroke-width="0.6" />
<line x1="362.54" y1="281.50" x2="370.48" y2="277.10" stroke="#b0b0b0" stroke-width="0.6" />
<polygon points="235.50,277.60 237.90,279.30 235.50,281.00 233.10,279.30" fill="#1a1a1a"/>
<polygon points="243.44,277.60 245.84,279.30 243.44,281.00 241.04,279.30" fill="#1a1a1a"/>
<polygon points="251.38,277.60 253.78,279.30 251.38,281.00 248.98,279.30" fill="#1a1a1a"/>
<polygon points="259.32,277.60 261.72,279.30 259.32,281.00 256.92,279.30" fill="#1a1a1a"/>
<polygon points="267.26,277.60 269.66,279.30 267.26,281.00 264.86,279.30" fill="#1a1a1a"/>
<polygon points="275.20,277.60 277.60,279.30 275.20,281.00 272.80,279.30" fill="#1a1a1a"/>
<polygon points="283.14,277.60 285.54,279.30 283.14,281.00 280.74,279.30" fill="#1a1a1a"/>
<polygon points="291.08,277.60 293.48,279.30 291.08,281.00 288.68,279.30" fill="#1a1a1a"/>
<polygon points="299.02,277.60 301.42,279.30 299.02,281.00 296.62,279.30" fill="#1a1a1a"/>
<polygon points="306.96,277.60 309.36,279.30 306.96,281.00 304.56,279.30" fill="#1a1a1a"/>
<polygon points="314.90,277.60 317.30,279.30 314.90,281.00 312.50,279.30" fill="#1a1a1a"/>
<polygon points="322.84,277.60 325.24,279.30 322.84,281.00 320.44,279.30" fill="#1a1a1a"/>
<polygon points="330.78,277.60 333.18,279.30 330.78,281.00 328.38,279.30" fill="#1a1a1a"/>
<polygon points="338.72,277.60 341.12,279.30 338.72,281.00 336.32,279.30" fill="#1a1a1a"/>
<polygon points="346.66,277.60 349.06,279.30 346.66,281.00 344.26,279.30" fill="#1a1a1a"/>
<polygon points="354.60,277.60 357.00,279.30 354.60,281.00 352.20,279.30" fill="#1a1a1a"/>
<polygon points="362.54,277.60 364.94,279.30 362.54,281.00 360.14,279.30" fill="#1a1a1a"/>
<polygon points="370.48,277.60 372.88,279.30 370.48,281.00 368.08,279.30" fill="#1a1a1a"/>
<line x1="238.00" y1="181.30" x2="241.00" y2="181.30" stroke="#333" stroke-width="0.9" />
<line x1="238.00" y1="283.30" x2="241.00" y2="283.30" stroke="#333" stroke-width="0.9" />
<line x1="253.94" y1="181.30" x2="256.94" y2="181.30" stroke="#333" stroke-width="0.9" />
<line x1="253.94" y1="283.30" x2="256.94" y2="283.30" stroke="#333" stroke-width="0.9" />
<line x1="269.88" y1="181.30" x2="272.88" y2="181.30" stroke="#333" stroke-width="0.9" />
<line x1="269.88" y1="283.30" x2="272.88" y2="283.30" stroke="#333" stroke-width="0.9" />
<line x1="285.82" y1="181.30" x2="288.82" y2="181.30" stroke="#333" stroke-width="0.9" />
<line x1="285.82" y1="283.30" x2="288.82" y2="283.30" stroke="#333" stroke-width="0.9" />
<line x1="301.76" y1="181.30" x2="304.76" y2="181.30" stroke="#333" stroke-width="0.9" />
<line x1="301.76" y1="283.30" x2="304.76" y2="283.30" stroke="#333" stroke-width="0.9" />
<line x1="317.70" y1="181.30" x2="320.70" y2="181.30" stroke="#333" stroke-width="0.9" />
<line x1="317.70" y1="283.30" x2="320.70" y2="283.30" stroke="#333" stroke-width="0.9" />
<line x1="333.64" y1="181.30" x2="336.64" y2="181.30" stroke="#333" stroke-width="0.9" />
<line x1="333.64" y1="283.30" x2="336.64" y2="283.30" stroke="#333" stroke-width="0.9" />
<line x1="349.58" y1="181.30" x2="352.58" y2="181.30" stroke="#333" stroke-width="0.9" />
<line x1="349.58" y1="283.30" x2="352.58" y2="283.30" stroke="#333" stroke-width="0.9" />
<line x1="365.52" y1="181.30" x2="368.52" y2="181.30" stroke="#333" stroke-width="0.9" />
<line x1="365.52" y1="283.30" x2="368.52" y2="283.30" stroke="#333" stroke-width="0.9" />
<rect x="227.00" y="194" width="1.6" height="76" fill="#c9c9c9"/>
<rect x="234.60" y="194" width="1.6" height="76" fill="#c9c9c9"/>
<rect x="228.10" y="191.5" width="7.0" height="81" rx="3.5" fill="#f3f3f3" stroke="#4a4a4a" stroke-width="0.7"/>
<line x1="231.60" y1="192.00" x2="231.60" y2="272.50" stroke="#444" stroke-width="0.7" />
<rect x="242.90" y="194" width="1.6" height="76" fill="#c9c9c9"/>
<rect x="250.50" y="194" width="1.6" height="76" fill="#c9c9c9"/>
<rect x="244.00" y="191.5" width="7.0" height="81" rx="3.5" fill="#f3f3f3" stroke="#4a4a4a" stroke-width="0.7"/>
<line x1="247.50" y1="192.00" x2="247.50" y2="272.50" stroke="#444" stroke-width="0.7" />
<rect x="258.84" y="194" width="1.6" height="76" fill="#c9c9c9"/>
<rect x="266.44" y="194" width="1.6" height="76" fill="#c9c9c9"/>
<rect x="259.94" y="191.5" width="7.0" height="81" rx="3.5" fill="#f3f3f3" stroke="#4a4a4a" stroke-width="0.7"/>
<line x1="263.44" y1="192.00" x2="263.44" y2="272.50" stroke="#444" stroke-width="0.7" />
<rect x="274.78" y="194" width="1.6" height="76" fill="#c9c9c9"/>
<rect x="282.38" y="194" width="1.6" height="76" fill="#c9c9c9"/>
<rect x="275.88" y="191.5" width="7.0" height="81" rx="3.5" fill="#f3f3f3" stroke="#4a4a4a" stroke-width="0.7"/>
<line x1="279.38" y1="192.00" x2="279.38" y2="272.50" stroke="#444" stroke-width="0.7" />
<rect x="290.72" y="194" width="1.6" height="76" fill="#c9c9c9"/>
<rect x="298.32" y="194" width="1.6" height="76" fill="#c9c9c9"/>
<rect x="291.82" y="191.5" width="7.0" height="81" rx="3.5" fill="#f3f3f3" stroke="#4a4a4a" stroke-width="0.7"/>
<line x1="295.32" y1="192.00" x2="295.32" y2="272.50" stroke="#444" stroke-width="0.7" />
<rect x="306.66" y="194" width="1.6" height="76" fill="#c9c9c9"/>
<rect x="314.26" y="194" width="1.6" height="76" fill="#c9c9c9"/>
<rect x="307.76" y="191.5" width="7.0" height="81" rx="3.5" fill="#f3f3f3" stroke="#4a4a4a" stroke-width="0.7"/>
<line x1="311.26" y1="192.00" x2="311.26" y2="272.50" stroke="#444" stroke-width="0.7" />
<rect x="322.60" y="194" width="1.6" height="76" fill="#c9c9c9"/>
<rect x="330.20" y="194" width="1.6" height="76" fill="#c9c9c9"/>
<rect x="323.70" y="191.5" width="7.0" height="81" rx="3.5" fill="#f3f3f3" stroke="#4a4a4a" stroke-width="0.7"/>
<line x1="327.20" y1="192.00" x2="327.20" y2="272.50" stroke="#444" stroke-width="0.7" />
<rect x="338.54" y="194" width="1.6" height="76" fill="#c9c9c9"/>
<rect x="346.14" y="194" width="1.6" height="76" fill="#c9c9c9"/>
<rect x="339.64" y="191.5" width="7.0" height="81" rx="3.5" fill="#f3f3f3" stroke="#4a4a4a" stroke-width="0.7"/>
<line x1="343.14" y1="192.00" x2="343.14" y2="272.50" stroke="#444" stroke-width="0.7" />
<rect x="354.48" y="194" width="1.6" height="76" fill="#c9c9c9"/>
<rect x="362.08" y="194" width="1.6" height="76" fill="#c9c9c9"/>
<rect x="355.58" y="191.5" width="7.0" height="81" rx="3.5" fill="#f3f3f3" stroke="#4a4a4a" stroke-width="0.7"/>
<line x1="359.08" y1="192.00" x2="359.08" y2="272.50" stroke="#444" stroke-width="0.7" />
<rect x="237.10" y="191.3" width="4.8" height="18.80" rx="2.4" fill="#ececec" stroke="#1e1e1e" stroke-width="0.9"/>
<rect x="237.10" y="213.4" width="4.8" height="38.40" rx="2.4" fill="#ececec" stroke="#1e1e1e" stroke-width="0.9"/>
<rect x="237.10" y="255.2" width="4.8" height="17.10" rx="2.4" fill="#ececec" stroke="#1e1e1e" stroke-width="0.9"/>
<rect x="239.10" y="211.35" width="0.8" height="0.8" fill="#555"/>
<rect x="239.10" y="253.1" width="0.8" height="0.8" fill="#555"/>
<rect x="253.04" y="191.3" width="4.8" height="18.80" rx="2.4" fill="#ececec" stroke="#1e1e1e" stroke-width="0.9"/>
<rect x="253.04" y="213.4" width="4.8" height="38.40" rx="2.4" fill="#ececec" stroke="#1e1e1e" stroke-width="0.9"/>
<rect x="253.04" y="255.2" width="4.8" height="17.10" rx="2.4" fill="#ececec" stroke="#1e1e1e" stroke-width="0.9"/>
<rect x="255.04" y="211.35" width="0.8" height="0.8" fill="#555"/>
<rect x="255.04" y="253.1" width="0.8" height="0.8" fill="#555"/>
<rect x="268.98" y="191.3" width="4.8" height="18.80" rx="2.4" fill="#ececec" stroke="#1e1e1e" stroke-width="0.9"/>
<rect x="268.98" y="213.4" width="4.8" height="38.40" rx="2.4" fill="#ececec" stroke="#1e1e1e" stroke-width="0.9"/>
<rect x="268.98" y="255.2" width="4.8" height="17.10" rx="2.4" fill="#ececec" stroke="#1e1e1e" stroke-width="0.9"/>
<rect x="270.98" y="211.35" width="0.8" height="0.8" fill="#555"/>
<rect x="270.98" y="253.1" width="0.8" height="0.8" fill="#555"/>
<rect x="284.92" y="191.3" width="4.8" height="18.80" rx="2.4" fill="#ececec" stroke="#1e1e1e" stroke-width="0.9"/>
<rect x="284.92" y="213.4" width="4.8" height="38.40" rx="2.4" fill="#ececec" stroke="#1e1e1e" stroke-width="0.9"/>
<rect x="284.92" y="255.2" width="4.8" height="17.10" rx="2.4" fill="#ececec" stroke="#1e1e1e" stroke-width="0.9"/>
<rect x="286.92" y="211.35" width="0.8" height="0.8" fill="#555"/>
<rect x="286.92" y="253.1" width="0.8" height="0.8" fill="#555"/>
<rect x="300.86" y="191.3" width="4.8" height="18.80" rx="2.4" fill="#ececec" stroke="#1e1e1e" stroke-width="0.9"/>
<rect x="300.86" y="213.4" width="4.8" height="38.40" rx="2.4" fill="#ececec" stroke="#1e1e1e" stroke-width="0.9"/>
<rect x="300.86" y="255.2" width="4.8" height="17.10" rx="2.4" fill="#ececec" stroke="#1e1e1e" stroke-width="0.9"/>
<rect x="302.86" y="211.35" width="0.8" height="0.8" fill="#555"/>
<rect x="302.86" y="253.1" width="0.8" height="0.8" fill="#555"/>
<rect x="316.80" y="191.3" width="4.8" height="18.80" rx="2.4" fill="#ececec" stroke="#1e1e1e" stroke-width="0.9"/>
<rect x="316.80" y="213.4" width="4.8" height="38.40" rx="2.4" fill="#ececec" stroke="#1e1e1e" stroke-width="0.9"/>
<rect x="316.80" y="255.2" width="4.8" height="17.10" rx="2.4" fill="#ececec" stroke="#1e1e1e" stroke-width="0.9"/>
<rect x="318.80" y="211.35" width="0.8" height="0.8" fill="#555"/>
<rect x="318.80" y="253.1" width="0.8" height="0.8" fill="#555"/>
<rect x="332.74" y="191.3" width="4.8" height="18.80" rx="2.4" fill="#ececec" stroke="#1e1e1e" stroke-width="0.9"/>
<rect x="332.74" y="213.4" width="4.8" height="38.40" rx="2.4" fill="#ececec" stroke="#1e1e1e" stroke-width="0.9"/>
<rect x="332.74" y="255.2" width="4.8" height="17.10" rx="2.4" fill="#ececec" stroke="#1e1e1e" stroke-width="0.9"/>
<rect x="334.74" y="211.35" width="0.8" height="0.8" fill="#555"/>
<rect x="334.74" y="253.1" width="0.8" height="0.8" fill="#555"/>
<rect x="348.68" y="191.3" width="4.8" height="18.80" rx="2.4" fill="#ececec" stroke="#1e1e1e" stroke-width="0.9"/>
<rect x="348.68" y="213.4" width="4.8" height="38.40" rx="2.4" fill="#ececec" stroke="#1e1e1e" stroke-width="0.9"/>
<rect x="348.68" y="255.2" width="4.8" height="17.10" rx="2.4" fill="#ececec" stroke="#1e1e1e" stroke-width="0.9"/>
<rect x="350.68" y="211.35" width="0.8" height="0.8" fill="#555"/>
<rect x="350.68" y="253.1" width="0.8" height="0.8" fill="#555"/>
<rect x="364.62" y="191.3" width="4.8" height="18.80" rx="2.4" fill="#ececec" stroke="#1e1e1e" stroke-width="0.9"/>
<rect x="364.62" y="213.4" width="4.8" height="38.40" rx="2.4" fill="#ececec" stroke="#1e1e1e" stroke-width="0.9"/>
<rect x="364.62" y="255.2" width="4.8" height="17.10" rx="2.4" fill="#ececec" stroke="#1e1e1e" stroke-width="0.9"/>
<rect x="366.62" y="211.35" width="0.8" height="0.8" fill="#555"/>
<rect x="366.62" y="253.1" width="0.8" height="0.8" fill="#555"/>
</g>
<line x1="233.00" y1="169.75" x2="233.00" y2="292.00" stroke="#333" stroke-width="0.8" />
<line x1="373.50" y1="175.50" x2="373.50" y2="288.30" stroke="#333" stroke-width="0.8" />
<line x1="142.00" y1="232.00" x2="221.50" y2="232.00" stroke="#222" stroke-width="0.6" />
<line x1="233.00" y1="232.00" x2="373.50" y2="232.00" stroke="#222" stroke-width="0.6" />
<polyline points="221.50,232.20 214.80,235.60 227.50,236.30 221.50,239.00" stroke="#333" stroke-width="0.7" fill="#fff" />
<polyline points="233.00,220.50 226.80,223.10 239.00,223.50 233.00,226.50" stroke="#333" stroke-width="0.7" fill="#fff" />
<line x1="141.70" y1="141.50" x2="373.50" y2="141.50" stroke="#333" stroke-width="0.6" />
<polygon points="141.70,141.50 145.70,140.30 145.70,142.70" fill="#333"/>
<polygon points="373.50,141.50 369.50,142.70 369.50,140.30" fill="#333"/>
<text x="258.00" y="139.20" font-size="8.0" text-anchor="middle" fill="#141414" >1256*</text>
<line x1="144.50" y1="153.60" x2="370.60" y2="153.60" stroke="#333" stroke-width="0.6" />
<polygon points="144.50,153.60 148.50,152.40 148.50,154.80" fill="#333"/>
<polygon points="370.60,153.60 366.60,154.80 366.60,152.40" fill="#333"/>
<text x="257.70" y="151.10" font-size="8.05" text-anchor="middle" fill="#141414" >45x27.5=1210</text>
<line x1="141.70" y1="138.00" x2="141.70" y2="175.50" stroke="#333" stroke-width="0.6" />
<line x1="373.50" y1="138.00" x2="373.50" y2="190.00" stroke="#333" stroke-width="0.6" />
<line x1="144.50" y1="150.00" x2="144.50" y2="186.00" stroke="#333" stroke-width="0.6" />
<line x1="370.60" y1="150.00" x2="370.60" y2="186.00" stroke="#333" stroke-width="0.6" />
<line x1="114.00" y1="167.20" x2="183.00" y2="167.20" stroke="#333" stroke-width="0.6" />
<polygon points="141.70,167.20 137.70,168.40 137.70,166.00" fill="#333"/>
<polygon points="144.50,167.20 148.50,166.00 148.50,168.40" fill="#333"/>
<polygon points="144.50,167.20 140.50,168.40 140.50,166.00" fill="#333"/>
<polygon points="153.00,167.20 157.00,166.00 157.00,168.40" fill="#333"/>
<polygon points="153.00,167.20 149.00,168.40 149.00,166.00" fill="#333"/>
<line x1="153.00" y1="164.00" x2="153.00" y2="186.00" stroke="#333" stroke-width="0.6" />
<text x="116.00" y="165.00" font-size="8.1" text-anchor="start" fill="#141414" >9±2</text>
<text x="167.00" y="165.00" font-size="8.1" text-anchor="start" fill="#141414" >27.5</text>
<line x1="109.50" y1="175.30" x2="142.00" y2="175.30" stroke="#333" stroke-width="0.7" />
<line x1="109.50" y1="287.80" x2="142.00" y2="287.80" stroke="#333" stroke-width="0.7" />
<line x1="110.00" y1="175.30" x2="110.00" y2="287.80" stroke="#333" stroke-width="0.6" />
<polygon points="110.00,175.30 111.20,179.30 108.80,179.30" fill="#333"/>
<polygon points="110.00,287.80 108.80,283.80 111.20,283.80" fill="#333"/>
<text x="106.50" y="231.50" font-size="8.3" text-anchor="middle" fill="#141414" transform="rotate(-90 106.50 231.50)" >395*</text>
<path d="M127.3,192.3 H142.8 Q144.8,192.3 144.8,194.3 V270.2 Q144.8,272.2 142.8,272.2 H127.3" stroke="#333" stroke-width="0.8" fill="none" />
<line x1="127.30" y1="192.30" x2="127.30" y2="272.20" stroke="#333" stroke-width="0.6" />
<polygon points="127.30,192.50 128.50,196.50 126.10,196.50" fill="#333"/>
<polygon points="127.30,272.00 126.10,268.00 128.50,268.00" fill="#333"/>
<text x="126.20" y="231.50" font-size="8.3" text-anchor="middle" fill="#141414" transform="rotate(-90 126.20 231.50)" >280</text>
<line x1="373.50" y1="185.40" x2="390.00" y2="185.40" stroke="#333" stroke-width="0.6" />
<line x1="373.50" y1="278.30" x2="390.00" y2="278.30" stroke="#333" stroke-width="0.6" />
<line x1="386.90" y1="185.40" x2="386.90" y2="278.30" stroke="#333" stroke-width="0.6" />
<polygon points="386.90,185.40 388.10,189.40 385.70,189.40" fill="#333"/>
<polygon points="386.90,278.30 385.70,274.30 388.10,274.30" fill="#333"/>
<text x="384.20" y="233.00" font-size="8.3" text-anchor="middle" fill="#141414" transform="rotate(-90 384.20 233.00)" >326±2</text>
<line x1="142.40" y1="288.30" x2="142.40" y2="307.00" stroke="#333" stroke-width="0.6" />
<line x1="149.60" y1="288.30" x2="149.60" y2="314.00" stroke="#333" stroke-width="0.6" />
<line x1="165.00" y1="288.30" x2="165.00" y2="307.00" stroke="#333" stroke-width="0.6" />
<line x1="181.00" y1="288.30" x2="181.00" y2="307.00" stroke="#333" stroke-width="0.6" />
<line x1="188.40" y1="288.30" x2="188.40" y2="307.00" stroke="#333" stroke-width="0.6" />
<line x1="367.00" y1="288.30" x2="367.00" y2="314.00" stroke="#333" stroke-width="0.6" />
<line x1="108.00" y1="306.00" x2="221.00" y2="306.00" stroke="#333" stroke-width="0.6" />
<polygon points="142.40,306.00 138.40,307.20 138.40,304.80" fill="#333"/>
<polygon points="149.60,306.00 153.60,304.80 153.60,307.20" fill="#333"/>
<polygon points="165.00,306.00 161.00,307.20 161.00,304.80" fill="#333"/>
<polygon points="181.00,306.00 185.00,304.80 185.00,307.20" fill="#333"/>
<polygon points="188.40,306.00 184.40,307.20 184.40,304.80" fill="#333"/>
<text x="111.00" y="303.60" font-size="8.1" text-anchor="start" fill="#141414" >23±2</text>
<text x="153.00" y="303.60" font-size="8.1" text-anchor="start" fill="#141414" >55</text>
<text x="202.00" y="305.00" font-size="8.1" text-anchor="start" fill="#141414" >27.5</text>
<line x1="149.60" y1="313.30" x2="367.00" y2="313.30" stroke="#333" stroke-width="0.6" />
<polygon points="149.60,313.30 153.60,312.10 153.60,314.50" fill="#333"/>
<polygon points="367.00,313.30 363.00,314.50 363.00,312.10" fill="#333"/>
<text x="236.00" y="311.00" font-size="8.2" text-anchor="start" fill="#141414" >22x55=1210</text>
</g>
<g>
<line x1="402.50" y1="147.50" x2="450.00" y2="147.50" stroke="#333" stroke-width="0.6" />
<polygon points="434.40,147.50 430.40,148.70 430.40,146.30" fill="#333"/>
<polygon points="438.70,147.50 442.70,146.30 442.70,148.70" fill="#333"/>
<text x="405.00" y="145.80" font-size="8" text-anchor="start" fill="#141414" >15±1</text>
<line x1="434.40" y1="147.50" x2="434.40" y2="169.00" stroke="#222" stroke-width="0.9" />
<line x1="438.70" y1="147.50" x2="438.70" y2="163.00" stroke="#888" stroke-width="0.6" />
<line x1="434.40" y1="162.00" x2="467.00" y2="162.00" stroke="#333" stroke-width="0.8" />
<line x1="434.40" y1="169.00" x2="467.00" y2="169.00" stroke="#222" stroke-width="1.3" />
<polyline points="442.00,157.00 444.50,160.50 447.00,155.50" stroke="#333" stroke-width="0.6" fill="none" />
<line x1="467.50" y1="137.50" x2="467.50" y2="256.30" stroke="#333" stroke-width="0.6" />
<polygon points="467.50,162.00 466.30,158.00 468.70,158.00" fill="#333"/>
<polygon points="467.50,169.50 468.70,173.50 466.30,173.50" fill="#333"/>
<polygon points="467.50,256.30 466.30,252.30 468.70,252.30" fill="#333"/>
<text x="465.30" y="144.20" font-size="8.3" text-anchor="middle" fill="#141414" transform="rotate(-90 465.30 144.20)" >22</text>
<text x="465.30" y="213.00" font-size="8.3" text-anchor="middle" fill="#141414" transform="rotate(-90 465.30 213.00)" >304</text>
<path d="M437,170 L435,180 L434.5,240 L436,252 L437,256 L439,252 L440.5,240 L440.5,180 L439,170 Z" stroke="#333" stroke-width="0.7" fill="#e8e8e8" />
<path d="M437,172 L437,254" stroke="#666" stroke-width="0.5" fill="none" stroke-dasharray="1.5,1"/>
<line x1="433.50" y1="213.00" x2="441.50" y2="213.00" stroke="#333" stroke-width="0.6" />
<line x1="435.00" y1="256.30" x2="467.50" y2="256.30" stroke="#333" stroke-width="0.9" />
<line x1="435.00" y1="256.30" x2="435.00" y2="263.00" stroke="#333" stroke-width="0.8" />
<line x1="434.50" y1="263.30" x2="445.80" y2="264.80" stroke="#333" stroke-width="0.8" />
<line x1="434.50" y1="263.30" x2="430.80" y2="300.80" stroke="#333" stroke-width="0.8" />
<line x1="446.50" y1="265.30" x2="443.70" y2="301.50" stroke="#333" stroke-width="0.8" />
<polyline points="442.00,268.50 446.50,265.50 459.50,285.50 455.00,288.50 442.00,268.50" stroke="#333" stroke-width="0.8" fill="none" />
<line x1="390.30" y1="296.30" x2="454.30" y2="303.30" stroke="#333" stroke-width="0.6" />
<polygon points="430.80,300.80 426.69,301.56 426.96,299.17" fill="#333"/>
<polygon points="443.70,302.20 447.81,301.44 447.54,303.83" fill="#333"/>
<text x="392.50" y="295.60" font-size="8.3" text-anchor="start" fill="#141414" transform="rotate(5 392.50 295.60)" >44±1.5</text>
<line x1="445.00" y1="294.00" x2="486.00" y2="267.50" stroke="#333" stroke-width="0.6" />
<polygon points="455.20,288.00 457.92,284.83 459.21,286.85" fill="#333"/>
<polygon points="459.50,285.20 456.78,288.37 455.49,286.35" fill="#333"/>
<text x="469.80" y="275.20" font-size="8.4" text-anchor="start" fill="#141414" transform="rotate(-33 469.80 275.20)" >23±1</text>
</g>
<text x="0" y="0" font-size="7.2" fill="#141414" transform="translate(360.7 325.70) scale(0.903 1)">Комплектация:</text>
<text x="0" y="0" font-size="7.2" fill="#141414" transform="translate(360.7 333.43) scale(0.903 1)">1 - платформа переходного мостика - 1 шт.</text>
<text x="0" y="0" font-size="7.2" fill="#141414" transform="translate(360.7 341.16) scale(0.903 1)">2 - кронштейн верхний - 2 шт.</text>
<text x="0" y="0" font-size="7.2" fill="#141414" transform="translate(360.7 348.89) scale(0.903 1)">3 - кронштейн нижний - 2 шт.</text>
<text x="0" y="0" font-size="7.2" fill="#141414" transform="translate(360.7 356.62) scale(0.903 1)">4 - болт М8х20 - 14 шт.</text>
<text x="0" y="0" font-size="7.2" fill="#141414" transform="translate(360.7 364.35) scale(0.903 1)">5 - гайка М8 - 14 шт.</text>
<text x="0" y="0" font-size="7.2" fill="#141414" transform="translate(360.7 372.08) scale(0.903 1)">6 - шайба Ø8 - 20 шт.</text>
<text x="0" y="0" font-size="7.2" fill="#141414" transform="translate(360.7 379.81) scale(0.903 1)">7 - болт-шуруп Ø8х50 - 6 шт.</text>
<text x="0" y="0" font-size="7.2" fill="#141414" transform="translate(360.7 387.54) scale(0.903 1)">8 - прокладка из пластиката Н-7мм - 8 шт.</text>
<text x="0" y="0" font-size="7.2" fill="#141414" transform="translate(360.7 395.27) scale(0.903 1)">9 - прокладка из пластиката Н-14мм - 2 шт.</text>
<g>
<text x="0" y="0" font-size="10.5" fill="#141414" transform="translate(128.5 412.6) scale(0.905 1)">Кронштейн верхний</text>
<line x1="100.80" y1="447.60" x2="167.00" y2="447.60" stroke="#333" stroke-width="0.6" />
<line x1="100.80" y1="488.00" x2="122.00" y2="488.00" stroke="#333" stroke-width="0.6" />
<line x1="102.00" y1="447.60" x2="102.00" y2="488.00" stroke="#333" stroke-width="0.6" />
<polygon points="102.00,447.60 103.20,451.60 100.80,451.60" fill="#333"/>
<polygon points="102.00,488.00 100.80,484.00 103.20,484.00" fill="#333"/>
<line x1="102.00" y1="488.00" x2="102.00" y2="506.00" stroke="#333" stroke-width="0.6" />
<polygon points="102.00,499.50 103.20,503.50 100.80,503.50" fill="#333"/>
<text x="100.60" y="467.70" font-size="8.3" text-anchor="middle" fill="#141414" transform="rotate(-90 100.60 467.70)" >142</text>
<text x="100.60" y="497.80" font-size="8.3" text-anchor="middle" fill="#141414" transform="rotate(-90 100.60 497.80)" >27.5</text>
<path d="M122,488 L156.5,452.7 Q161,447.5 167,447.5 H179 Q185,447.5 189.5,452.7 L224,488" stroke="#333" stroke-width="0.8" fill="none" />
<line x1="122.00" y1="488.20" x2="151.40" y2="488.20" stroke="#1a1a1a" stroke-width="1.3" />
<line x1="194.70" y1="488.20" x2="224.00" y2="488.20" stroke="#1a1a1a" stroke-width="1.3" />
<path d="M151.4,488.2 A26.95,26.95 0 0 1 194.7,488.2" stroke="#222" stroke-width="0.75" fill="none" />
<circle cx="168.00" cy="450.40" r="1.45" fill="#222" stroke="#333" stroke-width="0.2"/>
<circle cx="173.00" cy="450.40" r="1.45" fill="#222" stroke="#333" stroke-width="0.2"/>
<circle cx="178.00" cy="450.40" r="1.45" fill="#222" stroke="#333" stroke-width="0.2"/>
<circle cx="159.50" cy="454.20" r="1.45" fill="#222" stroke="#333" stroke-width="0.2"/>
<circle cx="156.30" cy="457.30" r="1.45" fill="#222" stroke="#333" stroke-width="0.2"/>
<circle cx="152.90" cy="461.30" r="1.45" fill="#222" stroke="#333" stroke-width="0.2"/>
<circle cx="186.50" cy="454.20" r="1.45" fill="#222" stroke="#333" stroke-width="0.2"/>
<circle cx="189.70" cy="457.30" r="1.45" fill="#222" stroke="#333" stroke-width="0.2"/>
<circle cx="193.10" cy="461.30" r="1.45" fill="#222" stroke="#333" stroke-width="0.2"/>
<circle cx="150.00" cy="471.00" r="1.45" fill="#222" stroke="#333" stroke-width="0.2"/>
<circle cx="196.00" cy="471.00" r="1.45" fill="#222" stroke="#333" stroke-width="0.2"/>
<circle cx="173.00" cy="473.00" r="1.45" fill="#222" stroke="#333" stroke-width="0.2"/>
<polygon points="135.3,472.79999999999995 136.9,474.4 135.3,476.0 133.70000000000002,474.4" fill="#333"/>
<polygon points="210.7,472.79999999999995 212.29999999999998,474.4 210.7,476.0 209.1,474.4" fill="#333"/>
<line x1="122.00" y1="488.00" x2="122.00" y2="501.00" stroke="#333" stroke-width="0.6" />
<line x1="224.00" y1="488.00" x2="224.00" y2="501.00" stroke="#333" stroke-width="0.6" />
<line x1="122.00" y1="499.50" x2="224.00" y2="499.50" stroke="#333" stroke-width="0.6" />
<polygon points="122.00,499.50 126.00,498.30 126.00,500.70" fill="#333"/>
<polygon points="224.00,499.50 220.00,500.70 220.00,498.30" fill="#333"/>
<text x="165.00" y="497.30" font-size="8.3" text-anchor="start" fill="#141414" >354*</text>
<path d="M120,529.7 H132 Q134,529.7 136,527.5 L149.3,513 M225,529.7 H214 Q212,529.7 210,527.5 L196.7,513 M225,512.5 V529.7" stroke="#333" stroke-width="0.8" fill="none" />
<line x1="120.00" y1="512.50" x2="225.00" y2="512.50" stroke="#222" stroke-width="1.3" />
<line x1="120.00" y1="512.50" x2="120.00" y2="559.50" stroke="#333" stroke-width="0.6" />
<line x1="124.00" y1="518.00" x2="124.00" y2="559.50" stroke="#333" stroke-width="0.6" />
<line x1="220.50" y1="518.00" x2="220.50" y2="559.50" stroke="#333" stroke-width="0.6" />
<line x1="224.00" y1="512.50" x2="224.00" y2="530.00" stroke="#333" stroke-width="0.6" />
<line x1="173.25" y1="508.75" x2="173.25" y2="527.50" stroke="#333" stroke-width="0.6" />
<line x1="102.00" y1="518.75" x2="124.50" y2="518.75" stroke="#333" stroke-width="0.6" />
<circle cx="124.00" cy="518.75" r="1.3" fill="#333" stroke="#333" stroke-width="0.3"/>
<line x1="124.00" y1="516.55" x2="124.00" y2="520.95" stroke="#333" stroke-width="0.5" />
<circle cx="220.50" cy="518.75" r="1.3" fill="#333" stroke="#333" stroke-width="0.3"/>
<line x1="220.50" y1="516.55" x2="220.50" y2="520.95" stroke="#333" stroke-width="0.5" />
<line x1="102.00" y1="526.25" x2="124.50" y2="526.25" stroke="#333" stroke-width="0.6" />
<circle cx="124.00" cy="526.25" r="1.3" fill="#333" stroke="#333" stroke-width="0.3"/>
<line x1="124.00" y1="524.05" x2="124.00" y2="528.45" stroke="#333" stroke-width="0.5" />
<circle cx="220.50" cy="526.25" r="1.3" fill="#333" stroke="#333" stroke-width="0.3"/>
<line x1="220.50" y1="524.05" x2="220.50" y2="528.45" stroke="#333" stroke-width="0.5" />
<line x1="102.00" y1="529.70" x2="120.00" y2="529.70" stroke="#333" stroke-width="0.6" />
<line x1="102.00" y1="505.00" x2="102.00" y2="549.00" stroke="#333" stroke-width="0.6" />
<polygon points="102.00,518.30 100.80,514.30 103.20,514.30" fill="#333"/>
<polygon points="102.00,526.30 103.20,530.30 100.80,530.30" fill="#333"/>
<polygon points="102.00,529.70 100.80,525.70 103.20,525.70" fill="#333"/>
<text x="100.60" y="546.70" font-size="8.3" text-anchor="middle" fill="#141414" transform="rotate(-90 100.60 546.70)" >12</text>
<line x1="96.00" y1="559.50" x2="217.50" y2="559.50" stroke="#333" stroke-width="0.6" />
<polygon points="120.00,559.50 116.00,560.70 116.00,558.30" fill="#333"/>
<polygon points="124.00,559.50 128.00,558.30 128.00,560.70" fill="#333"/>
<polygon points="220.50,559.50 216.50,560.70 216.50,558.30" fill="#333"/>
<text x="98.80" y="557.00" font-size="8.2" text-anchor="start" fill="#141414" >14</text>
<text x="161.20" y="557.20" font-size="8.0" text-anchor="start" fill="#141414" >326±1</text>
<polyline points="241.10,436.00 241.10,477.00 270.00,477.00" stroke="#222" stroke-width="1.3" fill="none" />
<line x1="241.10" y1="477.00" x2="241.10" y2="490.00" stroke="#333" stroke-width="0.6" />
<line x1="258.80" y1="477.00" x2="258.80" y2="490.00" stroke="#333" stroke-width="0.6" />
<line x1="241.10" y1="489.00" x2="258.80" y2="489.00" stroke="#333" stroke-width="0.6" />
<polygon points="241.10,489.00 245.10,487.80 245.10,490.20" fill="#333"/>
<polygon points="258.80,489.00 254.80,490.20 254.80,487.80" fill="#333"/>
<line x1="270.50" y1="454.00" x2="270.50" y2="490.00" stroke="#333" stroke-width="0.6" />
<polygon points="270.50,477.00 269.30,473.00 271.70,473.00" fill="#333"/>
<polygon points="270.50,479.00 271.70,483.00 269.30,483.00" fill="#333"/>
<text x="266.80" y="461.00" font-size="8" text-anchor="middle" fill="#141414" transform="rotate(-90 266.80 461.00)" >2*</text>
<text x="245.00" y="486.20" font-size="8.2" text-anchor="start" fill="#141414" >60</text>
</g>
<g>
<text x="0" y="0" font-size="10.55" fill="#141414" transform="translate(378.7 411.8) scale(0.905 1)">Кронштейн нижний</text>
<text x="397.50" y="419.00" font-size="8.3" text-anchor="start" fill="#141414" >109</text>
<line x1="383.30" y1="421.20" x2="424.20" y2="421.20" stroke="#333" stroke-width="0.6" />
<polygon points="383.30,421.20 387.30,420.00 387.30,422.40" fill="#333"/>
<polygon points="424.20,421.20 420.20,422.40 420.20,420.00" fill="#333"/>
<line x1="383.30" y1="419.00" x2="383.30" y2="448.40" stroke="#333" stroke-width="0.6" />
<line x1="424.20" y1="419.00" x2="424.20" y2="448.40" stroke="#333" stroke-width="0.6" />
<text x="399.00" y="432.50" font-size="8.3" text-anchor="start" fill="#141414" >43</text>
<line x1="383.30" y1="434.70" x2="424.20" y2="434.70" stroke="#333" stroke-width="0.6" />
<polygon points="396.30,434.70 392.30,435.90 392.30,433.50" fill="#333"/>
<polygon points="410.80,434.70 414.80,433.50 414.80,435.90" fill="#333"/>
<line x1="396.30" y1="434.70" x2="396.30" y2="490.00" stroke="#333" stroke-width="0.6" />
<line x1="410.80" y1="434.70" x2="410.80" y2="490.00" stroke="#333" stroke-width="0.6" />
<path d="M324.2,490.3 H343.3 Q346,490.3 348,487.5 L383,448.4 H424 L460.5,487.5 Q462.5,490.3 465,490.3 H484 V503 H324.2 Z" stroke="#333" stroke-width="0.8" fill="none" />
<line x1="305.00" y1="503.00" x2="484.00" y2="503.00" stroke="#222" stroke-width="1.4" />
<line x1="305.00" y1="448.40" x2="383.00" y2="448.40" stroke="#333" stroke-width="0.6" />
<line x1="327.30" y1="451.30" x2="406.00" y2="451.30" stroke="#555" stroke-width="0.5" />
<line x1="316.70" y1="460.80" x2="413.00" y2="460.80" stroke="#555" stroke-width="0.5" />
<line x1="316.70" y1="481.30" x2="413.00" y2="481.30" stroke="#555" stroke-width="0.5" />
<line x1="316.70" y1="490.30" x2="324.20" y2="490.30" stroke="#333" stroke-width="0.6" />
<line x1="404.00" y1="434.00" x2="404.00" y2="503.00" stroke="#333" stroke-width="0.6" />
<circle cx="404.00" cy="451.30" r="1.6" fill="#aaa" stroke="#222" stroke-width="0.8"/>
<rect x="396.4" y="456" width="15.2" height="9" rx="3.2" fill="none" stroke="#333" stroke-width="0.8"/>
<rect x="396.4" y="477" width="15.2" height="9" rx="3.2" fill="none" stroke="#333" stroke-width="0.8"/>
<rect x="375.3" y="465.3" width="2.8" height="2.8" fill="#bbb" stroke="#222" stroke-width="0.7"/>
<rect x="379.40000000000003" y="470.6" width="2.8" height="2.8" fill="#bbb" stroke="#222" stroke-width="0.7"/>
<rect x="384.40000000000003" y="474.90000000000003" width="2.8" height="2.8" fill="#bbb" stroke="#222" stroke-width="0.7"/>
<rect x="429.90000000000003" y="465.3" width="2.8" height="2.8" fill="#bbb" stroke="#222" stroke-width="0.7"/>
<rect x="425.8" y="470.6" width="2.8" height="2.8" fill="#bbb" stroke="#222" stroke-width="0.7"/>
<rect x="420.8" y="474.90000000000003" width="2.8" height="2.8" fill="#bbb" stroke="#222" stroke-width="0.7"/>
<line x1="316.70" y1="436.70" x2="316.70" y2="510.00" stroke="#333" stroke-width="0.6" />
<polygon points="316.70,448.40 317.90,452.40 315.50,452.40" fill="#333"/>
<polygon points="316.70,448.40 315.50,444.40 317.90,444.40" fill="#333"/>
<polygon points="316.70,460.80 317.90,464.80 315.50,464.80" fill="#333"/>
<polygon points="316.70,460.80 315.50,456.80 317.90,456.80" fill="#333"/>
<polygon points="316.70,481.30 317.90,485.30 315.50,485.30" fill="#333"/>
<polygon points="316.70,481.30 315.50,477.30 317.90,477.30" fill="#333"/>
<polygon points="316.70,490.30 317.90,494.30 315.50,494.30" fill="#333"/>
<polygon points="316.70,490.30 315.50,486.30 317.90,486.30" fill="#333"/>
<polygon points="316.70,503.00 317.90,507.00 315.50,507.00" fill="#333"/>
<polygon points="316.70,503.00 315.50,499.00 317.90,499.00" fill="#333"/>
<text x="314.20" y="454.20" font-size="8.3" text-anchor="middle" fill="#141414" transform="rotate(-90 314.20 454.20)" >34</text>
<text x="314.20" y="471.30" font-size="8.3" text-anchor="middle" fill="#141414" transform="rotate(-90 314.20 471.30)" >56</text>
<text x="314.20" y="496.30" font-size="8.3" text-anchor="middle" fill="#141414" transform="rotate(-90 314.20 496.30)" >34</text>
<line x1="305.00" y1="448.40" x2="305.00" y2="503.00" stroke="#333" stroke-width="0.6" />
<polygon points="305.00,448.40 306.20,452.40 303.80,452.40" fill="#333"/>
<polygon points="305.00,503.00 303.80,499.00 306.20,499.00" fill="#333"/>
<text x="304.00" y="474.60" font-size="8.3" text-anchor="middle" fill="#141414" transform="rotate(-90 304.00 474.60)" >147±1.5</text>
<line x1="327.30" y1="430.00" x2="327.30" y2="462.50" stroke="#333" stroke-width="0.6" />
<polygon points="327.30,451.30 326.10,447.30 328.50,447.30" fill="#333"/>
<polygon points="327.30,460.80 328.50,464.80 326.10,464.80" fill="#333"/>
<text x="325.80" y="430.50" font-size="8.3" text-anchor="middle" fill="#141414" transform="rotate(-90 325.80 430.50)" >10</text>
<line x1="324.20" y1="503.00" x2="324.20" y2="517.00" stroke="#333" stroke-width="0.6" />
<line x1="484.00" y1="503.00" x2="484.00" y2="517.00" stroke="#333" stroke-width="0.6" />
<line x1="324.20" y1="515.00" x2="484.00" y2="515.00" stroke="#333" stroke-width="0.6" />
<polygon points="324.20,515.00 328.20,513.80 328.20,516.20" fill="#333"/>
<polygon points="484.00,515.00 480.00,516.20 480.00,513.80" fill="#333"/>
<text x="395.60" y="512.40" font-size="8.4" text-anchor="start" fill="#141414" >425*</text>
<polyline points="496.60,448.00 496.60,503.00 523.00,503.00" stroke="#222" stroke-width="1.3" fill="none" />
<line x1="496.60" y1="503.00" x2="496.60" y2="525.00" stroke="#333" stroke-width="0.6" />
<line x1="508.00" y1="503.00" x2="508.00" y2="525.00" stroke="#333" stroke-width="0.6" />
<line x1="484.00" y1="523.00" x2="520.00" y2="523.00" stroke="#333" stroke-width="0.6" />
<polygon points="496.60,523.00 492.60,524.20 492.60,521.80" fill="#333"/>
<polygon points="508.00,523.00 512.00,521.80 512.00,524.20" fill="#333"/>
<text x="497.00" y="521.00" font-size="8.2" text-anchor="start" fill="#141414" >32</text>
<line x1="522.60" y1="490.00" x2="522.60" y2="536.00" stroke="#333" stroke-width="0.6" />
<polygon points="522.60,503.00 521.40,499.00 523.80,499.00" fill="#333"/>
<polygon points="522.60,505.00 523.80,509.00 521.40,509.00" fill="#333"/>
<text x="519.50" y="531.50" font-size="8" text-anchor="middle" fill="#141414" transform="rotate(-90 519.50 531.50)" >2*</text>
<line x1="324.20" y1="532.40" x2="481.70" y2="532.40" stroke="#333" stroke-width="0.6" />
<polygon points="324.20,532.40 328.20,531.20 328.20,533.60" fill="#333"/>
<polygon points="481.70,532.40 477.70,533.60 477.70,531.20" fill="#333"/>
<text x="395.00" y="530.60" font-size="8.4" text-anchor="start" fill="#141414" >425*</text>
<rect x="324.2" y="532.4" width="159.4" height="22.3" fill="none" stroke="#333" stroke-width="0.7"/>
<line x1="324.20" y1="543.00" x2="483.60" y2="543.00" stroke="#222" stroke-width="1.3" />
<line x1="325.50" y1="542.00" x2="325.50" y2="567.00" stroke="#222" stroke-width="1.2" />
<line x1="305.00" y1="550.50" x2="348.00" y2="550.50" stroke="#333" stroke-width="0.6" />
<line x1="305.00" y1="554.70" x2="324.20" y2="554.70" stroke="#333" stroke-width="0.6" />
<line x1="459.70" y1="549.90" x2="478.40" y2="549.90" stroke="#333" stroke-width="0.8" />
<circle cx="329.70" cy="550.20" r="1.4" fill="#333" stroke="#333" stroke-width="0.3"/>
<line x1="329.70" y1="547.50" x2="329.70" y2="553.00" stroke="#333" stroke-width="0.5" />
<circle cx="348.00" cy="550.20" r="1.4" fill="#333" stroke="#333" stroke-width="0.3"/>
<line x1="348.00" y1="547.50" x2="348.00" y2="553.00" stroke="#333" stroke-width="0.5" />
<circle cx="459.70" cy="550.20" r="1.4" fill="#333" stroke="#333" stroke-width="0.3"/>
<line x1="459.70" y1="547.50" x2="459.70" y2="553.00" stroke="#333" stroke-width="0.5" />
<circle cx="478.40" cy="550.20" r="1.4" fill="#333" stroke="#333" stroke-width="0.3"/>
<line x1="478.40" y1="547.50" x2="478.40" y2="553.00" stroke="#333" stroke-width="0.5" />
<line x1="305.00" y1="527.00" x2="305.00" y2="555.00" stroke="#333" stroke-width="0.6" />
<polygon points="305.00,550.50 306.20,554.50 303.80,554.50" fill="#333"/>
<text x="302.50" y="534.50" font-size="8.3" text-anchor="middle" fill="#141414" transform="rotate(-90 302.50 534.50)" >12</text>
<line x1="329.70" y1="550.00" x2="329.70" y2="567.70" stroke="#333" stroke-width="0.6" />
<line x1="348.00" y1="550.00" x2="348.00" y2="567.70" stroke="#333" stroke-width="0.6" />
<line x1="459.70" y1="550.00" x2="459.70" y2="567.70" stroke="#333" stroke-width="0.6" />
<line x1="478.40" y1="550.00" x2="478.40" y2="580.20" stroke="#333" stroke-width="0.6" />
<line x1="312.00" y1="567.20" x2="459.70" y2="567.20" stroke="#333" stroke-width="0.6" />
<polygon points="325.50,567.20 321.50,568.40 321.50,566.00" fill="#333"/>
<polygon points="329.70,567.20 333.70,566.00 333.70,568.40" fill="#333"/>
<polygon points="348.00,567.20 344.00,568.40 344.00,566.00" fill="#333"/>
<polygon points="459.70,567.20 455.70,568.40 455.70,566.00" fill="#333"/>
<text x="308.00" y="565.00" font-size="8.2" text-anchor="start" fill="#141414" >15</text>
<text x="334.00" y="565.00" font-size="8.2" text-anchor="start" fill="#141414" >48</text>
<text x="397.30" y="565.00" font-size="8.2" text-anchor="start" fill="#141414" >299</text>
<line x1="324.20" y1="554.70" x2="324.20" y2="580.00" stroke="#333" stroke-width="0.6" />
<line x1="324.20" y1="579.70" x2="478.40" y2="579.70" stroke="#333" stroke-width="0.6" />
<polygon points="324.20,579.70 328.20,578.50 328.20,580.90" fill="#333"/>
<polygon points="478.40,579.70 474.40,580.90 474.40,578.50" fill="#333"/>
<text x="394.60" y="577.00" font-size="8.2" text-anchor="start" fill="#141414" >410</text>
</g>
</svg>
</body></html>
